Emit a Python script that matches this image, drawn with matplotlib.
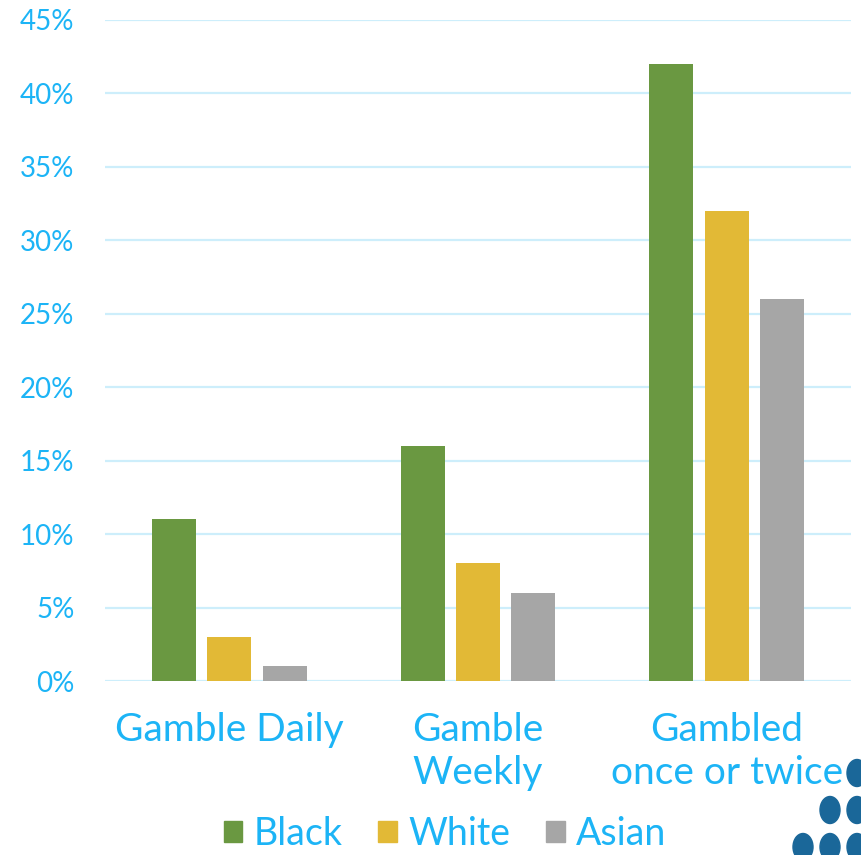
import matplotlib

matplotlib.use("Agg")
import matplotlib.pyplot as plt
from matplotlib.patches import Ellipse, Patch

categories = ["Gamble Daily", "Gamble\nWeekly", "Gambled\nonce or twice"]
groups = ["Black", "White", "Asian"]
black = [11, 16, 42]
white = [3, 8, 32]
asian = [1, 6, 26]
yticks = [0, 5, 10, 15, 20, 25, 30, 35, 40, 45]

C_BLACK = "#6a9841"
C_WHITE = "#e2b936"
C_ASIAN = "#a6a6a6"
C_TEXT = "#1cb4f6"
C_GRID = "#cdeefb"
C_DOTS = "#1a6799"

plt.rcParams["font.family"] = ["Lato", "DejaVu Sans"]

W, H = 861, 855
fig = plt.figure(figsize=(W / 100, H / 100), dpi=100)
ax = fig.add_axes([105 / W, 1 - 681 / H, 746 / W, 661 / H])

x = list(range(len(categories)))
step = 0.223
bw = 0.177
for k, (vals, col) in enumerate(((black, C_BLACK), (white, C_WHITE), (asian, C_ASIAN))):
    ax.bar([xi + (k - 1) * step for xi in x], vals, width=bw, color=col, zorder=3)

ax.set_xlim(-0.5, 2.5)
ax.set_ylim(0, 45)
ax.set_yticks(yticks)
ax.set_yticklabels([f"{v}%" for v in yticks])
ax.set_xticks(x)
ax.set_xticklabels(categories, linespacing=1.25)
ax.tick_params(axis="y", length=0, pad=22, labelsize=20, labelcolor=C_TEXT)
ax.tick_params(axis="x", length=0, pad=22, labelsize=28, labelcolor=C_TEXT)
ax.grid(axis="y", color=C_GRID, lw=1.6, zorder=0)
ax.set_axisbelow(True)
for s in ax.spines.values():
    s.set_visible(False)

handles = [Patch(color=c) for c in (C_BLACK, C_WHITE, C_ASIAN)]
fig.legend(handles, groups, loc="center", bbox_to_anchor=(445 / W, 1 - 834 / H),
           ncol=3, frameon=False, fontsize=27, labelcolor=C_TEXT, borderpad=0,
           handlelength=0.5, handleheight=0.5, handletextpad=0.3, columnspacing=0.95)

# corner mark: staggered dots
for cx, cy in ((857, 773), (830, 810), (857, 810), (803, 847), (830, 847), (857, 847)):
    fig.add_artist(Ellipse((cx / W, 1 - cy / H), 20 / W, 27 / H,
                           transform=fig.transFigure, color=C_DOTS, clip_on=False))

fig.savefig("out.png", dpi=100)
